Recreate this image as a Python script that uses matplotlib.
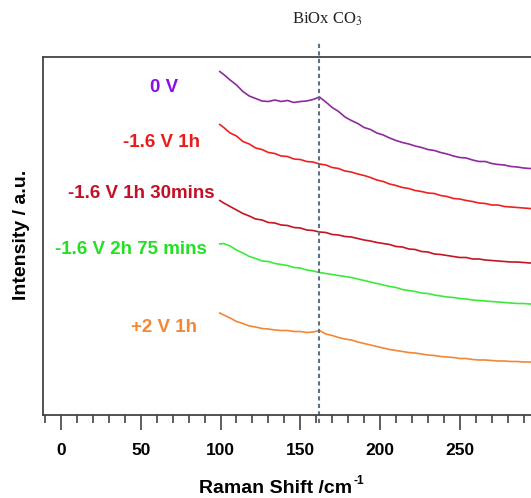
import matplotlib.pyplot as plt
from matplotlib.ticker import MultipleLocator

# Raman shift grid (cm-1) shared by all spectra
raman_shift = [99.5, 102, 106, 110, 114, 118, 122, 126, 130, 134, 138, 142, 146, 150,
               154, 158, 162, 166, 170, 174, 178, 182, 186, 190, 194, 198, 202, 206,
               210, 214, 218, 222, 226, 230, 234, 238, 242, 246, 250, 254, 258, 262,
               266, 270, 274, 278, 282, 286, 290, 294, 298, 302, 306, 310]

# stacked intensities (arbitrary units, offset already included)
int_0v = [343.5, 340.5, 335.0, 330.0, 323.5, 319.0, 316.5, 314.0, 313.5, 315.0, 313.5,
          314.5, 312.5, 313.5, 314.0, 315.5, 318.0, 313.0, 307.5, 303.5, 298.0, 294.5,
          291.5, 287.5, 285.5, 282.0, 280.0, 277.0, 274.5, 272.5, 271.0, 269.0, 267.5,
          265.5, 264.5, 262.5, 261.0, 259.0, 257.5, 257.0, 255.0, 253.5, 253.5, 251.5,
          250.5, 250.0, 248.5, 248.0, 247.0, 246.5, 246.0, 245.0, 244.5, 244.0]
int_16v_1h = [290.5, 287.5, 282.0, 279.0, 273.5, 271.0, 267.0, 265.5, 262.5, 261.5, 259.0,
              258.5, 256.0, 255.5, 253.5, 253.0, 251.0, 250.0, 247.5, 246.5, 244.0, 243.0,
              241.0, 239.5, 237.5, 235.0, 233.5, 231.0, 229.5, 227.5, 226.5, 224.5, 223.5,
              222.0, 221.5, 219.5, 218.5, 216.5, 216.0, 214.5, 213.5, 212.0, 211.5, 210.0,
              210.0, 208.5, 208.0, 207.5, 207.0, 206.5, 205.5, 205.5, 204.5, 204.0]
int_16v_1h30 = [214.5, 212.0, 208.5, 205.0, 201.5, 199.0, 196.0, 195.0, 192.5, 192.0, 190.0,
                189.5, 187.5, 187.0, 185.0, 184.5, 183.0, 182.5, 180.5, 180.0, 178.5, 178.0,
                176.5, 175.0, 174.0, 172.5, 171.5, 170.5, 168.5, 168.0, 166.0, 165.5, 163.5,
                163.0, 161.0, 160.5, 159.5, 158.5, 157.5, 157.5, 156.0, 156.0, 155.0, 154.5,
                154.0, 153.5, 153.0, 153.0, 152.5, 152.0, 152.0, 151.5, 151.0, 151.0]
int_16v_2h75 = [171.0, 171.5, 169.0, 165.0, 162.0, 158.5, 156.5, 154.0, 153.5, 151.5, 150.5,
                149.5, 147.5, 147.0, 145.0, 144.0, 142.5, 141.5, 140.5, 139.5, 138.5, 137.5,
                136.0, 134.5, 133.0, 131.5, 130.0, 128.5, 127.5, 125.5, 124.5, 123.5, 122.0,
                121.5, 120.0, 119.0, 118.0, 117.5, 116.5, 116.0, 115.0, 114.5, 114.0, 113.5,
                113.0, 112.5, 112.0, 111.5, 111.5, 111.0, 110.5, 110.5, 110.0, 110.0]
int_2v_1h = [102.0, 100.0, 97.0, 93.5, 91.5, 89.0, 88.0, 86.5, 86.0, 85.0, 84.5,
             84.5, 83.5, 83.5, 82.5, 83.0, 84.5, 81.0, 79.5, 77.5, 76.0, 75.0,
             73.0, 71.5, 70.0, 68.5, 67.0, 65.5, 64.5, 63.5, 62.5, 62.0, 61.0,
             60.0, 59.5, 58.5, 58.0, 57.5, 56.5, 56.5, 55.5, 55.0, 55.0, 54.5,
             54.0, 54.0, 53.5, 53.5, 53.0, 53.0, 52.5, 52.5, 52.0, 52.0]

labels = ["0 V", "-1.6 V 1h", "-1.6 V 1h 30mins", "-1.6 V 2h 75 mins", "+2 V 1h"]
line_colors = ["#8e2a9e", "#ee2020", "#c41622", "#3cea3c", "#f08838"]
label_colors = ["#8a10e8", "#e81c1c", "#c41026", "#22e022", "#f08838"]
# label anchor (right edge, vertical centre) in data units
label_x = [73.5, 87.0, 96.5, 91.5, 85.5]
label_y = [328, 273, 222, 166, 88]

x_ticks = [0, 50, 100, 150, 200, 250, 300]
x_ticklabels = ["0", "50", "100", "150", "200", "250", ""]

peak_pos = 162  # BiOx CO3 band

plt.rcParams["mathtext.fontset"] = "stix"
fig = plt.figure(figsize=(5.31, 4.98), dpi=100)
ax = fig.add_axes([42.7 / 531, 83 / 498, 512.8 / 531, 358 / 498])

spectra = [int_0v, int_16v_1h, int_16v_1h30, int_16v_2h75, int_2v_1h]
for y, c in zip(spectra, line_colors):
    ax.plot(raman_shift, y, color=c, lw=1.2)

for txt, c, lx, ly in zip(labels, label_colors, label_x, label_y):
    ax.text(lx, ly, txt, color=c, fontsize=13.5, fontweight="bold",
            family="Liberation Sans", ha="right", va="center")

ax.axvline(peak_pos, ymin=-0.022, ymax=1.042, clip_on=False, color="#5b7184",
           lw=1.5, linestyle=(0, (2, 1.6)))
fig.text(327 / 531, 1 - 19 / 498, "BiOx CO$_3$", family="Liberation Serif",
         fontsize=12, ha="center", va="center", color="#222222")

ax.set_xlim(-11.5, 310)
ax.set_ylim(0, 358)
ax.set_xticks(x_ticks)
ax.set_xticklabels(x_ticklabels)
ax.xaxis.set_minor_locator(MultipleLocator(10))
ax.tick_params(axis="x", which="major", direction="out", length=11, width=1.1,
               color="#333333", pad=9, labelsize=12.5)
ax.tick_params(axis="x", which="minor", direction="out", length=6, width=1.1,
               color="#333333")
ax.set_yticks([])
for lab in ax.get_xticklabels():
    lab.set_fontweight("bold")
    lab.set_family("Liberation Sans")

for side in ["left", "top", "bottom"]:
    ax.spines[side].set_color("#444444")
    ax.spines[side].set_linewidth(1.3)
ax.spines["right"].set_visible(False)

# axis titles
fig.text(352 / 531, 1 - 488 / 498, "Raman Shift /cm", fontsize=14, fontweight="bold",
         family="Liberation Sans", ha="right", va="center")
fig.text(353 / 531, 1 - 481 / 498, "-1", fontsize=8.5, fontweight="bold",
         family="Liberation Sans", ha="left", va="center")
fig.text(22 / 531, 1 - 235 / 498, "Intensity / a.u.", rotation=90, fontsize=14,
         fontweight="bold", family="Liberation Sans", ha="center", va="center")

plt.savefig("out.png", dpi=100)
